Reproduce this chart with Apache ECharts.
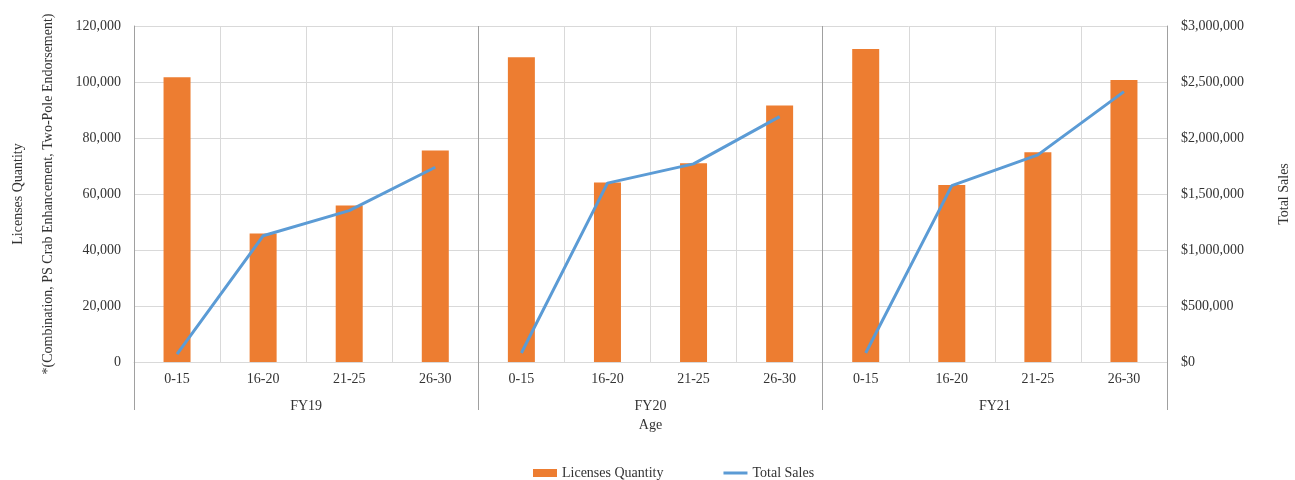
<!DOCTYPE html>
<html>
<head>
<meta charset="utf-8">
<script src="https://cdn.jsdelivr.net/npm/echarts@6/dist/echarts.min.js"></script>
<style>
  html, body { margin: 0; padding: 0; background: #fff; }
  #main { width: 1295px; height: 480px; }
</style>
</head>
<body>
<div id="main"></div>
<script>
const ages = ['0-15', '16-20', '21-25', '26-30'];
const years = ['FY19', 'FY20', 'FY21'];

const licensesFY19 = [101700, 45900, 55900, 75500];
const licensesFY20 = [108800, 64100, 71000, 91600];
const licensesFY21 = [111800, 63200, 74900, 100700];

const salesFY19 = [71000, 1127000, 1352000, 1739000];
const salesFY20 = [80000, 1597000, 1769000, 2191000];
const salesFY21 = [80000, 1575000, 1849000, 2414000];

const barColor = '#ED7D31', lineColor = '#5B9BD5';
const gridColor = '#d9d9d9', sepColor = '#a0a0a0';
const font = 'Liberation Serif';

const licenses = [licensesFY19, licensesFY20, licensesFY21];
const sales = [salesFY19, salesFY20, salesFY21];

// one category per age per year
let cats = [];
years.forEach(() => { cats = cats.concat(ages) });
let barData = [];
licenses.forEach(arr => { barData = barData.concat(arr) });

// line breaks between years, so one series per year
const lineSeries = sales.map((arr, i) => {
  const d = cats.map(() => '-');
  arr.forEach((v, j) => { d[i * ages.length + j] = v });
  return {
    name: 'Total Sales',
    type: 'line',
    yAxisIndex: 1,
    xAxisIndex: 0,
    data: d,
    symbol: 'none',
    connectNulls: false,
    lineStyle: { color: lineColor, width: 3 },
    itemStyle: { color: lineColor },
    z: 5
  }
});

const fmt = v => v.toLocaleString('en-US');

let myChart = echarts.init(document.getElementById('main'));
myChart.setOption({
  animation: false,
  textStyle: { fontFamily: font },
  grid: { left: 134, right: 128, top: 26, bottom: 118, containLabel: false, outerBoundsMode: 'none' },
  legend: {
    left: 528,
    top: 461,
    itemGap: 60,
    itemWidth: 24,
    itemHeight: 8,
    textStyle: { fontFamily: font, fontSize: 14, color: '#333' },
    data: [
      { name: 'Licenses Quantity', icon: 'rect' },
      { name: 'Total Sales', icon: 'path://M0,0H24V3H0Z' }
    ]
  },
  xAxis: [
    {
      type: 'category',
      data: cats,
      boundaryGap: true,
      axisLine: { show: true, lineStyle: { color: gridColor } },
      axisTick: { show: false },
      axisLabel: { interval: 0, margin: 10, fontSize: 14, color: '#333', fontFamily: font },
      splitLine: { show: true, lineStyle: { color: gridColor } }
    },
    {
      type: 'category',
      data: years,
      position: 'bottom',
      boundaryGap: true,
      axisLine: { show: false },
      axisTick: { show: true, length: 48, lineStyle: { color: sepColor } },
      axisLabel: { interval: 0, margin: 37, fontSize: 14, color: '#333', fontFamily: font },
      splitLine: { show: true, lineStyle: { color: sepColor } },
      name: 'Age',
      nameLocation: 'middle',
      nameGap: 56,
      nameTextStyle: { fontSize: 14, color: '#333', fontFamily: font }
    }
  ],
  yAxis: [
    {
      type: 'value',
      min: 0,
      max: 120000,
      interval: 20000,
      name: 'Licenses Quantity\n*(Combination, PS Crab Enhancement, Two-Pole Endorsement)',
      nameLocation: 'middle',
      nameRotate: 90,
      nameGap: 71,
      nameTextStyle: { fontSize: 14, color: '#333', fontFamily: font, lineHeight: 30 },
      axisLine: { show: true, lineStyle: { color: sepColor } },
      axisTick: { show: false },
      axisLabel: { fontSize: 14, color: '#333', fontFamily: font, margin: 13, formatter: fmt },
      splitLine: { show: true, lineStyle: { color: gridColor } }
    },
    {
      type: 'value',
      min: 0,
      max: 3000000,
      interval: 500000,
      position: 'right',
      name: 'Total Sales',
      nameLocation: 'middle',
      nameRotate: 90,
      nameGap: 110,
      nameTextStyle: { fontSize: 14, color: '#333', fontFamily: font },
      axisLine: { show: true, lineStyle: { color: sepColor } },
      axisTick: { show: false },
      axisLabel: { fontSize: 14, color: '#333', fontFamily: font, margin: 14, formatter: v => '$' + fmt(v) },
      splitLine: { show: false }
    }
  ],
  series: [
    {
      name: 'Licenses Quantity',
      type: 'bar',
      xAxisIndex: 0,
      yAxisIndex: 0,
      data: barData,
      barWidth: 27,
      itemStyle: { color: barColor }
    }
  ].concat(lineSeries)
});
</script>
</body>
</html>
